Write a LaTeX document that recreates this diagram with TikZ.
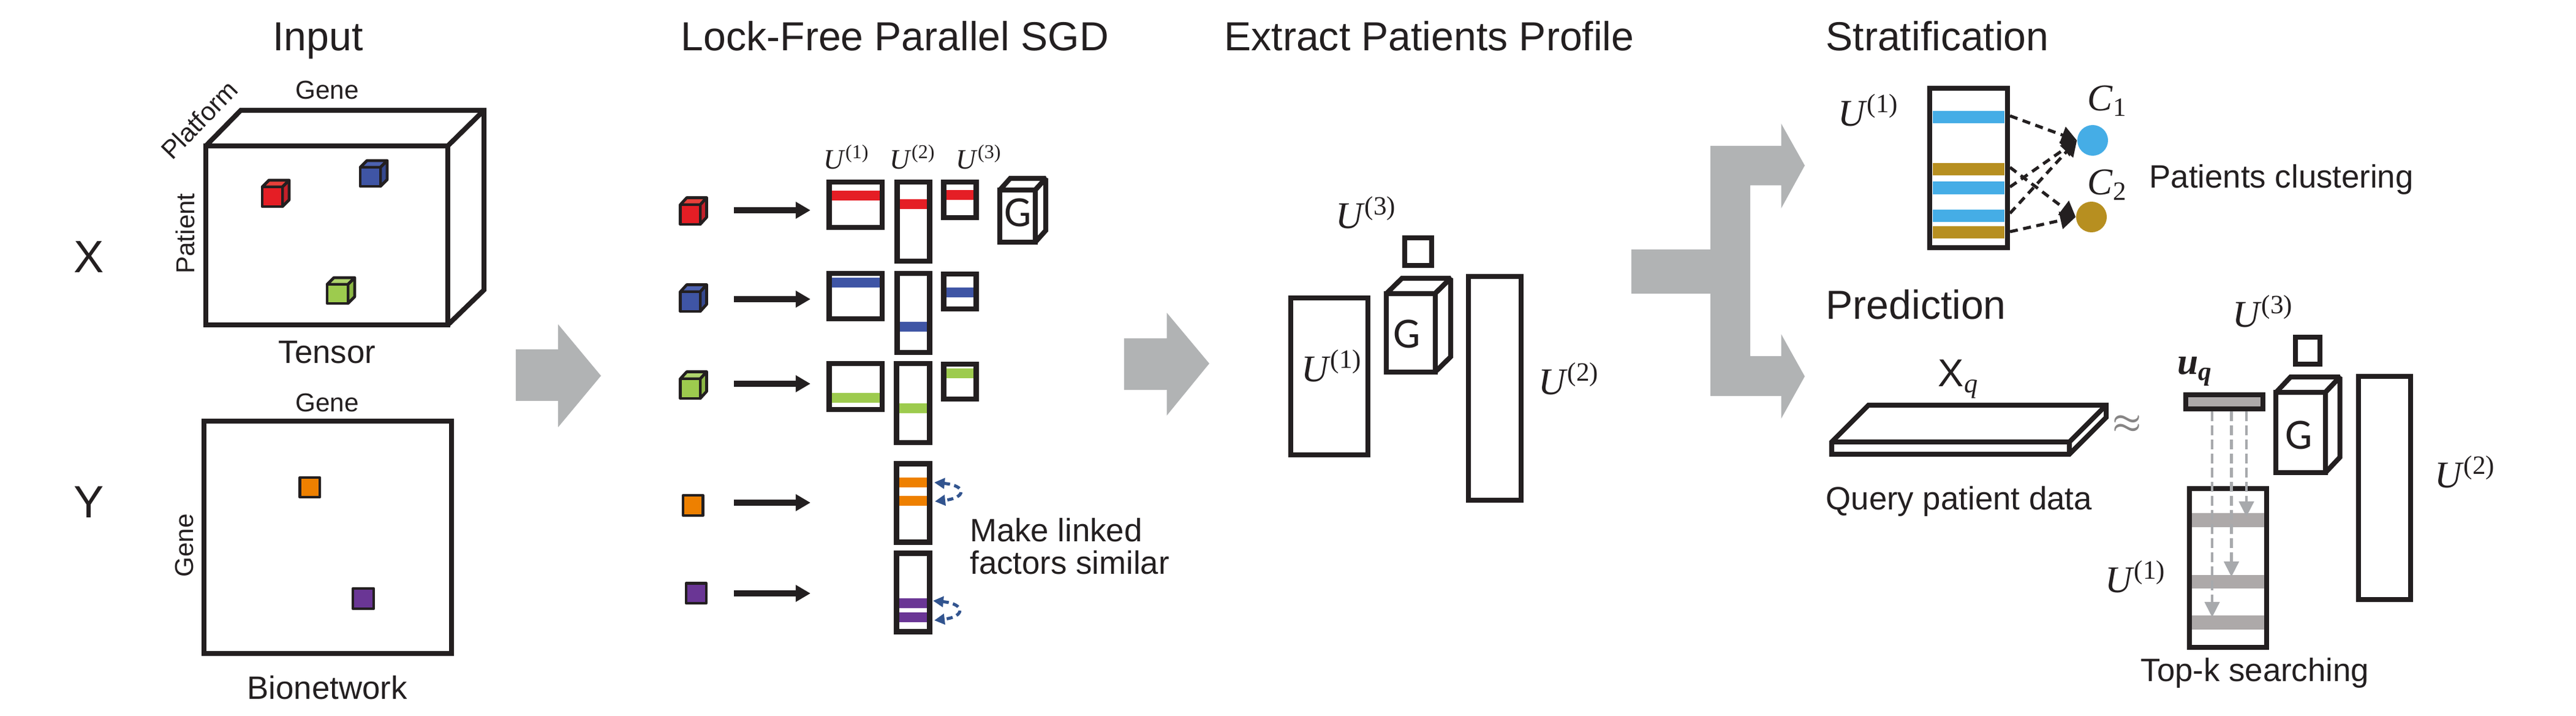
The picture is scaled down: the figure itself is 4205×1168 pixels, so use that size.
\documentclass[tikz,border=0pt]{standalone}
\usepackage{fix-cm}
\usepackage[no-math]{fontspec}
\setmainfont{Liberation Sans}
\newfontfamily\corefont{Carlito}
\newfontfamily\factorfont{Liberation Serif}
\usetikzlibrary{arrows.meta}
\definecolor{ink}{HTML}{231F20}
\definecolor{flowgray}{HTML}{B1B3B4}
\definecolor{tred}{HTML}{E51E25}
\definecolor{tredtop}{HTML}{E8403A}
\definecolor{tredside}{HTML}{C4202A}
\definecolor{tblue}{HTML}{3F55A5}
\definecolor{tbluetop}{HTML}{4D62B0}
\definecolor{tblueside}{HTML}{35488F}
\definecolor{tgreen}{HTML}{9DCB4E}
\definecolor{tgreentop}{HTML}{AFD46C}
\definecolor{tgreenside}{HTML}{8CB845}
\definecolor{torange}{HTML}{EE8000}
\definecolor{tpurple}{HTML}{6A3695}
\definecolor{linkblue}{HTML}{32548F}
\definecolor{cblue}{HTML}{45ADE6}
\definecolor{cgold}{HTML}{B78F20}
\definecolor{searchgray}{HTML}{ADA9A9}
\definecolor{searcharrow}{HTML}{A7A9AC}
\colorlet{coreblock}{white}
\colorlet{coreblocktop}{white}
\colorlet{coreblockside}{white}
\tikzset{
  title/.style={anchor=base,text=ink,inner sep=0pt,font=\fontsize{18.8}{20}\selectfont},
  caption/.style={anchor=base,text=ink,inner sep=0pt,font=\fontsize{15}{17}\selectfont},
  axislabel/.style={anchor=base,text=ink,inner sep=0pt,font=\fontsize{12}{14}\selectfont},
  matrixname/.style={text=ink,inner sep=0pt,font=\factorfont\fontsize{17.5}{19}\selectfont},
  smallname/.style={text=ink,inner sep=0pt,font=\factorfont\fontsize{13}{14}\selectfont},
  corename/.style={text=ink,inner sep=0pt,font=\corefont\fontsize{20}{22}\selectfont},
  framebox/.style={draw=ink,line width=0.085cm,line join=miter},
  smallcube/.style={draw=ink,line width=0.047cm,line join=round},
  bigcube/.style={draw=ink,line width=0.08cm,line join=miter,miter limit=1.5},
  bigarrow/.style={fill=flowgray},
  flowarrow/.style={draw=ink,line width=0.1cm,-{Triangle[length=0.24cm,width=0.26cm]}},
  clusterarrow/.style={draw=ink,line width=0.05cm,dash pattern=on 0.13cm off 0.09cm,-{Triangle[length=0.25cm,width=0.28cm]}},
  linkarrow/.style={draw=linkblue,line width=0.05cm,dash pattern=on 0.1cm off 0.07cm,{Triangle[length=0.17cm,width=0.17cm]}-{Triangle[length=0.17cm,width=0.17cm]}},
  searchline/.style={draw=searcharrow,line width=0.045cm,dash pattern=on 0.16cm off 0.07cm,-{Triangle[length=0.25cm,width=0.24cm]}}
}
\newcommand{\factorU}[1]{\textit{U}\textsuperscript{(#1)}}
\newcommand{\blockdraw}[8]{%
  \draw[#1,fill=#2top] (#3,#4) -- (#3+#7,#4-#8) -- (#5+#7,#4-#8) -- (#5,#4) -- cycle;
  \draw[#1,fill=#2side] (#5,#4) -- (#5+#7,#4-#8) -- (#5+#7,#6-#8) -- (#5,#6) -- cycle;
  \draw[#1,fill=#2] (#3,#4) rectangle (#5,#6);
}
\begin{document}
\begin{tikzpicture}[x=0.01cm,y=-0.01cm]
\useasboundingbox (0,0) rectangle (4205,1168);
% input
\node[title] (input) at (519,83) {Input};
\node[title,font=\fontsize{21}{22}\selectfont] (xname) at (145,445) {X};
\node[title,font=\fontsize{21}{22}\selectfont] (yname) at (145,845) {Y};
\node[axislabel,rotate=46] (platform) at (336,206) {Platform};
\node[axislabel] (genea) at (534,162) {Gene};
\node[axislabel,rotate=90] (patient) at (317,381) {Patient};
\draw[framebox,line width=0.08cm] (336,238) rectangle (731,530);
\draw[framebox,line width=0.08cm] (336,238) -- (393,180) -- (790,180) -- (790,473) -- (731,530);
\draw[framebox,line width=0.08cm] (731,238) -- (790,180);
\blockdraw{smallcube}{tred}{428}{305}{461}{337}{11}{11}
\blockdraw{smallcube}{tblue}{588}{273}{621}{304}{11}{11}
\blockdraw{smallcube}{tgreen}{534}{464}{568}{495}{11}{11}
\node[caption] (tensor) at (534,593) {Tensor};
\node[axislabel] (geneb) at (534,672) {Gene};
\node[axislabel,rotate=90] (genec) at (315,890) {Gene};
\draw[framebox,line width=0.08cm] (333,687) rectangle (737,1066);
\draw[smallcube,fill=torange] (489.5,779) rectangle (522,811);
\draw[smallcube,fill=tpurple] (576,960) rectangle (610,993);
\node[caption] (bionet) at (534,1141) {Bionetwork};
\fill[bigarrow] (842,570) -- (911,570) -- (911,529) -- (981,613) -- (911,697) -- (911,654) -- (842,654) -- cycle;
% parallel sgd
\node[title] (sgd) at (1461,83) {Lock-Free Parallel SGD};
\node[smallname] (ua) at (1382,256) {\factorU{1}};
\node[smallname] (ub) at (1490,256) {\factorU{2}};
\node[smallname] (uc) at (1598,256) {\factorU{3}};
\blockdraw{smallcube}{tred}{1110.5}{334}{1143}{366}{10.5}{11.5}
\blockdraw{smallcube}{tblue}{1110.5}{476}{1143}{508}{10.5}{11.5}
\blockdraw{smallcube}{tgreen}{1110.5}{618}{1143}{650}{10.5}{11.5}
\draw[smallcube,fill=torange] (1115,808) rectangle (1147.5,841);
\draw[smallcube,fill=tpurple] (1120,951.5) rectangle (1153,984);
\foreach \row/\y in {a/343,b/488,c/626,d/820,e/968}{
  \coordinate (src\row) at (1198,\y);
  \coordinate (dst\row) at (1323,\y);
  \draw[flowarrow] (src\row) -- (dst\row);
}
\fill[tred] (1358,311) rectangle (1436,327);
\fill[tred] (1469,325) rectangle (1513,341);
\fill[tred] (1545,310) rectangle (1589,326);
\fill[tblue] (1358,453) rectangle (1436,469);
\fill[tblue] (1469,525) rectangle (1513,541);
\fill[tblue] (1545,469) rectangle (1589,485);
\fill[tgreen] (1358,641) rectangle (1436,657);
\fill[tgreen] (1468,658) rectangle (1513,674);
\fill[tgreen] (1545,601) rectangle (1589,617);
\fill[torange] (1468,779) rectangle (1513,795);
\fill[torange] (1468,809) rectangle (1513,825);
\fill[tpurple] (1468,976) rectangle (1513,992);
\fill[tpurple] (1468,999) rectangle (1513,1015);
\draw[framebox] (1353.5,297) rectangle (1440,371);
\draw[framebox] (1464.5,297) rectangle (1517.5,426);
\draw[framebox] (1540.5,297) rectangle (1593.5,355);
\draw[framebox] (1353.5,446) rectangle (1440,520);
\draw[framebox] (1464.5,446) rectangle (1517.5,575);
\draw[framebox] (1540.5,447) rectangle (1593.5,504);
\draw[framebox] (1353.5,593) rectangle (1440,668);
\draw[framebox] (1463.5,593) rectangle (1517.5,722);
\draw[framebox] (1540.5,594) rectangle (1593.5,651);
\draw[framebox] (1463.5,756.5) rectangle (1517.5,884.5);
\draw[framebox] (1463.5,902.5) rectangle (1517.5,1030.5);
\blockdraw{bigcube}{coreblock}{1632}{310}{1690}{395}{17}{19}
\node[corename] (corea) at (1662,347) {G};
\coordinate (linkaa) at (1525,787);
\coordinate (linkab) at (1526,818);
\coordinate (linkba) at (1523,980);
\coordinate (linkbb) at (1525,1012);
\draw[linkarrow] (linkaa) .. controls (1578,792) and (1578,812) .. (linkab);
\draw[linkarrow] (linkba) .. controls (1576,985) and (1576,1006) .. (linkbb);
\node[caption] (linkeda) at (1724,884) {Make linked};
\node[caption] (linkedb) at (1746,937) {factors similar};
\fill[bigarrow] (1835,552) -- (1904.5,552) -- (1904.5,510) -- (1974,593) -- (1904.5,678) -- (1904.5,636) -- (1835,636) -- cycle;
% patient profile
\node[title] (profile) at (2333,83) {Extract Patients Profile};
\node[matrixname] (pthree) at (2230,347) {\factorU{3}};
\draw[framebox,line width=0.08cm] (2293,388) rectangle (2337,433);
\blockdraw{bigcube}{coreblock}{2263}{479}{2342.5}{607}{25.5}{25}
\node[corename] (coreb) at (2297,545) {G};
\draw[framebox,line width=0.08cm] (2106.5,486) rectangle (2233,742);
\node[matrixname] (pone) at (2174,597) {\factorU{1}};
\draw[framebox,line width=0.08cm] (2397,451) rectangle (2483,816);
\node[matrixname] (ptwo) at (2561,618) {\factorU{2}};
\fill[bigarrow] (2663,407) -- (2792,407) -- (2792,238) -- (2907.5,238) -- (2907.5,201.5) -- (2946,270) -- (2907.5,340) -- (2907.5,302.5) -- (2857,302.5) -- (2857,581) -- (2907.5,581) -- (2907.5,545) -- (2946,614) -- (2907.5,683) -- (2907.5,646) -- (2792,646) -- (2792,479) -- (2663,479) -- cycle;
% stratification
\node[title,anchor=base west] (strat) at (2980,83) {Stratification};
\node[matrixname] (sone) at (3050,180) {\factorU{1}};
\fill[cblue] (3155,181) rectangle (3272,201);
\fill[cgold] (3155,266) rectangle (3272,286);
\fill[cblue] (3155,296) rectangle (3272,317);
\fill[cblue] (3155,342) rectangle (3272,362);
\fill[cgold] (3155,369) rectangle (3272,389);
\draw[framebox,line width=0.08cm] (3150,144) rectangle (3277,404);
\node[circle,fill=cblue,inner sep=0pt,minimum size=0.5cm] (cone) at (3416,229) {};
\node[circle,fill=cgold,inner sep=0pt,minimum size=0.5cm] (ctwo) at (3414,354) {};
\node[matrixname] (conelabel) at (3440,165) {\textit{C}\textsubscript{1}};
\node[matrixname] (ctwolabel) at (3440,302) {\textit{C}\textsubscript{2}};
\coordinate (fromba) at (3281,189);
\coordinate (frombb) at (3281,305);
\coordinate (frombc) at (3281,348);
\coordinate (fromga) at (3281,273);
\coordinate (fromgb) at (3281,378);
\draw[clusterarrow] (fromba) -- (cone.west);
\draw[clusterarrow] (frombb) -- (cone.west);
\draw[clusterarrow] (frombc) -- (cone.west);
\draw[clusterarrow] (fromga) -- (ctwo.west);
\draw[clusterarrow] (fromgb) -- (ctwo.west);
\node[caption,anchor=base west] (clustering) at (3508,307) {Patients clustering};
% prediction
\node[title,anchor=base west] (predict) at (2980,521) {Prediction};
\node[caption,anchor=base,font=\fontsize{18}{20}\selectfont] (xq) at (3197,631) {X\textsubscript{\factorfont\itshape q}};
\draw[framebox,line width=0.08cm] (2990,721) -- (3050,661) -- (3438,661) -- (3438,681) -- (3378,741) -- (2990,741) -- cycle;
\draw[framebox,line width=0.08cm] (2990,721) -- (3378,721) -- (3438,661);
\draw[framebox,line width=0.08cm] (3378,721) -- (3378,741);
\node[text=ink!55,inner sep=0pt,font=\fontsize{15}{17}\selectfont\boldmath] (approx) at (3472,692) {$\approx$};
\node[caption,anchor=base west] (query) at (2980,832) {Query patient data};
\node[matrixname] (uq) at (3583,606) {\textit{\textbf{u}}\textsubscript{\itshape\bfseries q}};
\node[matrixname] (qthree) at (3694,508) {\factorU{3}};
\draw[framebox,line width=0.08cm] (3747,550) rectangle (3787,594.5);
\blockdraw{bigcube}{coreblock}{3715}{640.5}{3795.5}{771.5}{24}{25.5}
\node[corename] (corec) at (3753,710) {G};
\draw[framebox,line width=0.08cm] (3850,614) rectangle (3935,978);
\node[matrixname] (qtwo) at (4024,770) {\factorU{2}};
\node[matrixname] (qone) at (3486,941) {\factorU{1}};
\fill[searchgray] (3578,837) rectangle (3696,860);
\fill[searchgray] (3578,938) rectangle (3696,960);
\fill[searchgray] (3578,1004) rectangle (3696,1027);
\draw[framebox,line width=0.08cm] (3574,797) rectangle (3700,1056);
\draw[framebox,line width=0.08cm,fill=searchgray] (3568,644) rectangle (3694,667);
\foreach \hit/\x/\yend in {a/3667/843,b/3642.5/941,c/3611/1007}{
  \coordinate (top\hit) at (\x,671);
  \coordinate (low\hit) at (\x,\yend);
  \draw[searchline] (top\hit) -- (low\hit);
}
\node[caption,anchor=base west] (topk) at (3494,1112) {Top-k searching};
\end{tikzpicture}
\end{document}
